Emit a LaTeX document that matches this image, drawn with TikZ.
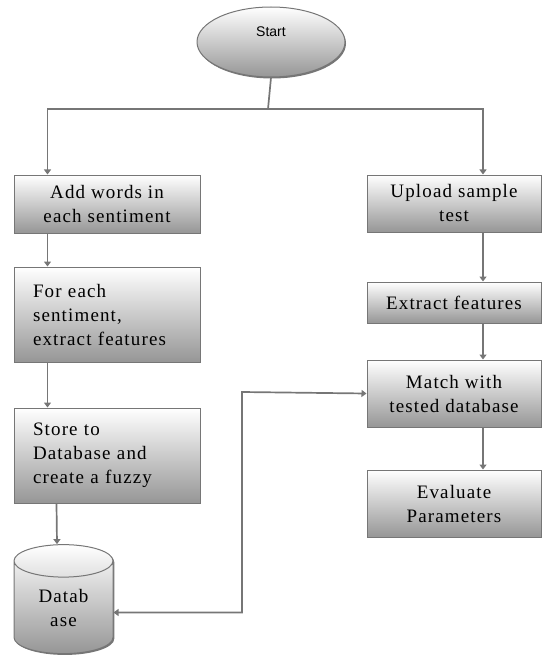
\documentclass[tikz,border=0pt]{standalone}
\usepackage{fontspec}
\setmainfont{Liberation Serif}
\newfontfamily\boxfont{Liberation Serif}[LetterSpace=6]
\newfontfamily\startfont{Liberation Sans}
\usetikzlibrary{shapes.geometric,arrows.meta,shadows}
\definecolor{lineGray}{RGB}{118,118,118}
\definecolor{boxGray}{RGB}{150,150,150}
\begin{document}
\begin{tikzpicture}[x=1pt,y=-1pt,
  flow/.style={draw=lineGray,line width=1.7pt,-{Triangle[width=7pt,length=5pt]}},
  procbox/.style={rectangle,draw=lineGray,line width=1pt,top color=white,bottom color=boxGray,
    drop shadow={shadow xshift=1.3pt,shadow yshift=-1.3pt,fill=lineGray,opacity=1},
    inner sep=0pt,font=\boxfont\fontsize{19}{24}\selectfont,align=center}]
  \useasboundingbox (0,0) rectangle (542,663);
  % Start
  \node[ellipse,draw=lineGray,line width=1pt,top color=white,bottom color=boxGray,
    drop shadow={shadow xshift=1pt,shadow yshift=-1.5pt,fill=lineGray,opacity=1},
    minimum width=148pt,minimum height=70pt,inner sep=0pt,text depth=20pt,
    font=\startfont\fontsize{14}{16}\selectfont] (start) at (271,42) {Start};
  \coordinate (fork) at (268,109);
  % Left branch
  \node[procbox,minimum width=186pt,minimum height=58pt] (addwords) at (107,204)
    {Add words in\\each sentiment};
  \node[procbox,minimum width=186pt,minimum height=95pt,text width=148pt,align=left] (extractall) at (107,314.5)
    {For each\\sentiment,\\extract features};
  \node[procbox,minimum width=186pt,minimum height=95pt,text width=148pt,align=left] (store) at (107,455.5)
    {Store to\\Database and\\create a fuzzy};
  \node[cylinder,shape border rotate=90,aspect=0.65,draw=lineGray,line width=1pt,
    top color=white,bottom color=boxGray,
    drop shadow={shadow xshift=1.3pt,shadow yshift=-1.3pt,fill=lineGray,opacity=1},
    minimum width=99pt,minimum height=109pt,inner sep=0pt,align=center,
    font=\boxfont\fontsize{19}{24}\selectfont] (db) at (63.5,607.5) {Datab\\ase};
  % Right branch
  \node[procbox,minimum width=174pt,minimum height=57pt] (upload) at (454,203.5)
    {Upload sample\\test};
  \node[procbox,minimum width=174pt,minimum height=41pt] (extract) at (454,302.5)
    {Extract features};
  \node[procbox,minimum width=174pt,minimum height=67pt] (match) at (454,393.5)
    {Match with\\tested database};
  \node[procbox,minimum width=174pt,minimum height=67pt] (evaluate) at (454,503.5)
    {Evaluate\\Parameters};
  \coordinate (bend) at (242,392);
  % Connectors
  \draw[draw=lineGray,line width=1.7pt] (start.south) -- (fork);
  \draw[flow] (fork) -| ([xshift=34pt]addwords.north west);
  \draw[flow] (fork) -| ([xshift=29pt]upload.north);
  \draw[flow] ([xshift=34pt]addwords.south west) -- ([xshift=34pt]extractall.north west);
  \draw[flow] ([xshift=34pt]extractall.south west) -- ([xshift=34pt]store.north west);
  \draw[flow] ([xshift=43pt]store.south west) -- ([xshift=-6.5pt]db.top);
  \draw[flow] ([xshift=29pt]upload.south) -- ([xshift=29pt]extract.north);
  \draw[flow] ([xshift=29pt]extract.south) -- ([xshift=29pt]match.north);
  \draw[flow] ([xshift=29pt]match.south) -- ([xshift=29pt]evaluate.north);
  \draw[flow,{Triangle[width=7pt,length=5pt]}-{Triangle[width=7pt,length=5pt]}]
    ([yshift=-5pt]db.east) -| (bend) -- (match.west);
\end{tikzpicture}
\end{document}
